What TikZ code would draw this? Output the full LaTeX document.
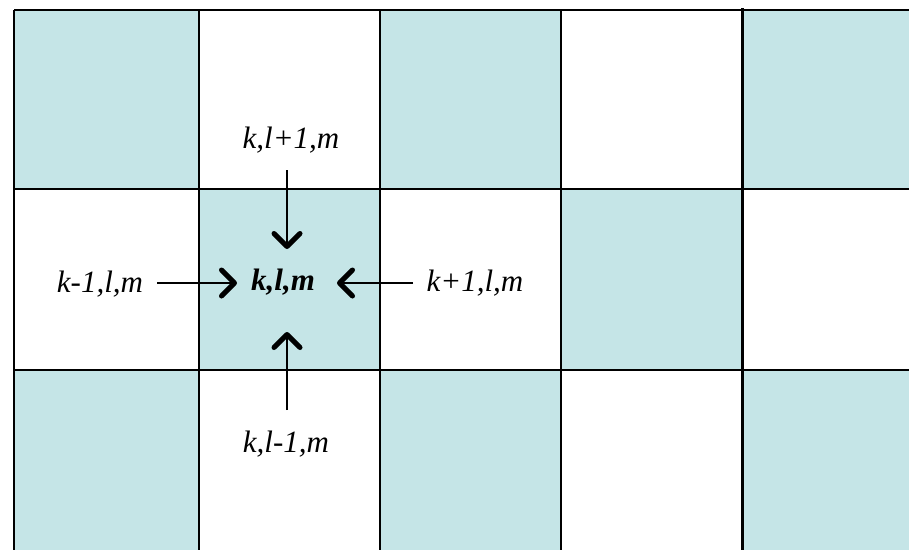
\documentclass[tikz,border=0pt]{standalone}
\usepackage{fontspec}
\setmainfont{LiberationSerif}[Extension=.ttf,UprightFont=*-Regular,ItalicFont=*-Italic,BoldFont=*-Bold,BoldItalicFont=*-BoldItalic]
\usetikzlibrary{arrows.meta}
\definecolor{cellfill}{RGB}{197,229,231}
\begin{document}
\begin{tikzpicture}[x=1pt,y=-1pt,
  cell/.style={fill=cellfill},
  gridline/.style={line width=2pt,black},
  lbl/.style={anchor=base,inner sep=0pt,font=\fontsize{31}{36}\selectfont\itshape},
  flow/.style={line width=1.5pt,-{Straight Barb[length=13pt,width=26pt,line width=5pt,round]}}]
\useasboundingbox (0,0) rectangle (909,550);
% shaded cells
\fill[cell] (14,10) rectangle (199,189);
\fill[cell] (380,10) rectangle (561,189);
\fill[cell] (742,10) rectangle (909,189);
\fill[cell] (199,189) rectangle (380,370);
\fill[cell] (561,189) rectangle (742,370);
\fill[cell] (14,370) rectangle (199,550);
\fill[cell] (380,370) rectangle (561,550);
\fill[cell] (742,370) rectangle (909,550);
% grid lines
\draw[gridline] (14,10) -- (909,10);
\draw[gridline] (14,189) -- (909,189);
\draw[gridline] (14,370) -- (909,370);
\draw[gridline] (14,10) -- (14,550);
\draw[gridline] (199,10) -- (199,550);
\draw[gridline] (380,10) -- (380,550);
\draw[gridline] (561,10) -- (561,550);
\draw[line width=3pt] (742,8) -- (742,550);
% labels
\node[lbl] (top) at (291,148) {k,l+1,m};
\node[lbl] (bot) at (286,452) {k,l-1,m};
\node[lbl] (left) at (100,292) {k-1,l,m};
\node[lbl] (right) at (475,291) {k+1,l,m};
\node[lbl,font=\fontsize{31}{36}\selectfont\bfseries\itshape] (ctr) at (283,290) {k,l,m};
% arrow endpoints
\coordinate (ts) at (287,170);
\coordinate (te) at (287,249);
\coordinate (bs) at (287,410);
\coordinate (be) at (287,332);
\coordinate (ls) at (157,283);
\coordinate (le) at (237,283);
\coordinate (rs) at (413,283);
\coordinate (re) at (337,283);
\draw[flow] (ts) -- (te);
\draw[flow] (bs) -- (be);
\draw[flow] (ls) -- (le);
\draw[flow] (rs) -- (re);
\end{tikzpicture}
\end{document}
